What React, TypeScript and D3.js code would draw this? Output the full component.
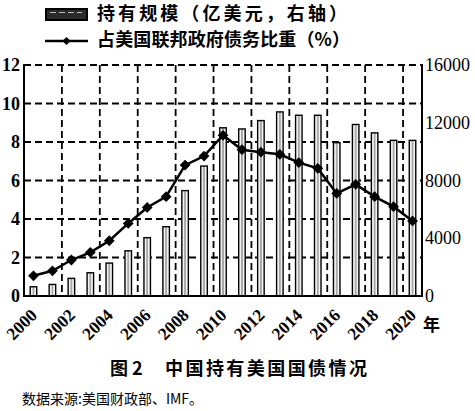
import React from 'react'
import * as d3 from 'd3'

const years = d3.range(2000, 2021).map(String)
// 持有规模（亿美元）
const holdings = [640, 800, 1220, 1610, 2280, 3130, 4040, 4800, 7300, 9000, 11650, 11570, 12150, 12750, 12520, 12520, 10620, 11880, 11300, 10780, 10780]
// 占美国联邦政府债务比重（%）
const share = [1.05, 1.31, 1.87, 2.27, 2.87, 3.77, 4.6, 5.16, 6.8, 7.27, 8.35, 7.6, 7.47, 7.36, 6.93, 6.63, 5.33, 5.8, 5.16, 4.64, 3.9]
const leftTicks = [0, 2, 4, 6, 8, 10, 12]
const rightTicks = [0, 4000, 8000, 12000, 16000]
const labelYears = years.filter((y) => +y % 2 === 0)
const gridYears = labelYears.slice(1)

const W = 475
const H = 411
const m = { left: 24, right: 422, top: 65, bottom: 296 }

const serif = '"Liberation Serif", "DejaVu Serif", serif'
const cjk = '"Noto Sans CJK SC", "Noto Sans", sans-serif'

export default function App() {
  const x = d3.scaleBand<string>().domain(years).range([m.left, m.right]).padding(0)
  const yL = d3.scaleLinear().domain([0, 12]).range([m.bottom, m.top])
  const yR = d3.scaleLinear().domain([0, 16000]).range([m.bottom, m.top])
  const cx = (yr: string) => (x(yr) ?? 0) + x.bandwidth() / 2
  const barW = 6.5

  const line = d3
    .line<number>()
    .x((_, i) => cx(years[i]))
    .y((d) => yL(d))
  const diamond = d3.symbol().type(d3.symbolSquare).size(58)()
  const smallDiamond = d3.symbol().type(d3.symbolSquare).size(34)()
  const dash = '7,4'

  return (
    <svg width={W} height={H} style={{ position: 'absolute', left: 0, top: 0, background: '#fff' }}>
      <defs>
        <linearGradient id="barFill" x1="0" x2="1" y1="0" y2="0">
          <stop offset="0" stopColor="#fafafa" />
          <stop offset="0.3" stopColor="#f0f0f0" />
          <stop offset="0.42" stopColor="#a8a8a8" />
          <stop offset="0.58" stopColor="#a8a8a8" />
          <stop offset="0.7" stopColor="#f0f0f0" />
          <stop offset="1" stopColor="#fafafa" />
        </linearGradient>
      </defs>

      {/* legend */}
      <rect x={46} y={9} width={41} height={11} fill="#2b2b2b" stroke="#000" strokeWidth={2} />
      <line x1={50} x2={82} y1={12.5} y2={12.5} stroke="#bbb" strokeWidth={1} strokeDasharray="6,3" />
      <text x={97} y={15} dominantBaseline="middle" fontFamily={cjk} fontWeight={700} fontSize={18} textLength={250} lengthAdjust="spacing">
        持有规模（亿美元，右轴）
      </text>
      <line x1={45} x2={88} y1={41} y2={41} stroke="#000" strokeWidth={2.5} />
      <path d={smallDiamond} transform="translate(66.5,41) rotate(45)" fill="#000" />
      <text x={97} y={41} dominantBaseline="middle" fontFamily={cjk} fontWeight={700} fontSize={18} textLength={253} lengthAdjust="spacing">
        占美国联邦政府债务比重（%）
      </text>

      {/* grid */}
      {leftTicks.slice(1).map((t) => (
        <line key={'h' + t} x1={m.left} x2={m.right} y1={yL(t)} y2={yL(t)} stroke="#000" strokeWidth={1.8} strokeDasharray={dash} />
      ))}
      {gridYears.map((yr) => (
        <line key={'v' + yr} x1={x(yr)} x2={x(yr)} y1={m.top} y2={m.bottom} stroke="#000" strokeWidth={1.8} strokeDasharray={dash} />
      ))}

      {/* bars */}
      {holdings.map((v, i) => (
        <rect
          key={'b' + i}
          x={cx(years[i]) - barW / 2}
          y={yR(v)}
          width={barW}
          height={m.bottom - yR(v)}
          fill="url(#barFill)"
          stroke="#000"
          strokeWidth={1.4}
        />
      ))}

      {/* line */}
      <path d={line(share) ?? ''} fill="none" stroke="#000" strokeWidth={2.5} />
      {share.map((v, i) => (
        <path key={'d' + i} d={diamond} transform={`translate(${cx(years[i])},${yL(v)}) rotate(45)`} fill="#000" />
      ))}

      {/* axes */}
      <line x1={m.left} x2={m.left} y1={m.top - 1} y2={m.bottom} stroke="#000" strokeWidth={2} />
      <line x1={m.right} x2={m.right} y1={m.top - 1} y2={m.bottom} stroke="#000" strokeWidth={2} />
      <line x1={m.left - 1} x2={m.right + 1} y1={m.bottom} y2={m.bottom} stroke="#000" strokeWidth={2} />
      {leftTicks.map((t) => (
        <text key={'l' + t} x={20} y={yL(t)} textAnchor="end" dominantBaseline="central" fontFamily={serif} fontWeight={700} fontSize={18}>
          {t}
        </text>
      ))}
      {rightTicks.map((t) => (
        <text key={'r' + t} x={425} y={yR(t)} dominantBaseline="central" fontFamily={serif} fontSize={18}>
          {t}
        </text>
      ))}
      {labelYears.map((yr) => (
        <text
          key={'x' + yr}
          transform={`translate(${cx(yr) + 0.5},${m.bottom + 16}) rotate(-45)`}
          textAnchor="end"
          dominantBaseline="central"
          fontFamily={serif}
          fontWeight={700}
          fontSize={17.5}
        >
          {yr}
        </text>
      ))}
      <text x={423} y={323} dominantBaseline="central" fontFamily={cjk} fontWeight={700} fontSize={17}>
        年
      </text>

      {/* caption */}
      <text x={110} y={367} dominantBaseline="central" fontFamily={cjk} fontWeight={700} fontSize={18}>
        图 2
      </text>
      <text x={165} y={367} dominantBaseline="central" fontFamily={cjk} fontWeight={700} fontSize={18} textLength={202} lengthAdjust="spacing">
        中国持有美国国债情况
      </text>
      <text x={22} y={398} dominantBaseline="central" fontFamily={cjk} fontSize={14}>
        数据来源:美国财政部、IMF。
      </text>
    </svg>
  )
}
